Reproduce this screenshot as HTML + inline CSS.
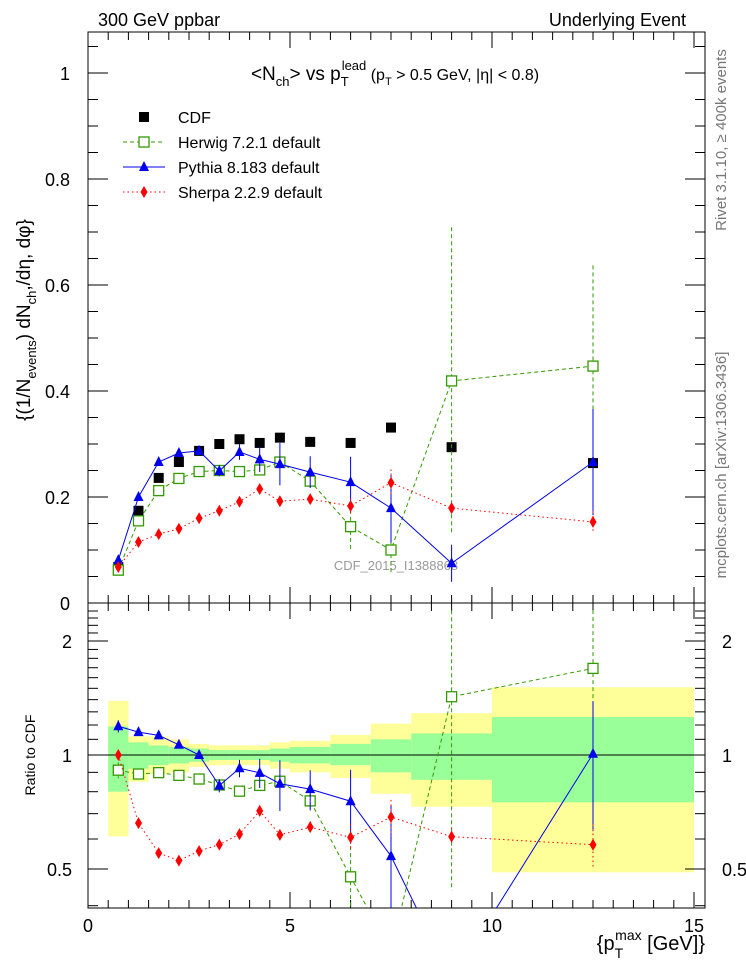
<!DOCTYPE html>
<html><head><meta charset="utf-8"><style>
html,body{margin:0;padding:0;background:#fff;width:746px;height:972px;overflow:hidden;}
svg{display:block;font-family:"Liberation Sans",sans-serif;}
</style></head><body>
<svg id="c" width="746" height="972" viewBox="0 0 746 972"></svg>
<script>
const xs=[0.75,1.25,1.75,2.25,2.75,3.25,3.75,4.25,4.75,5.5,6.5,7.5,9,12.5];
const cdfY=[0.068,0.174,0.236,0.266,0.287,0.300,0.309,0.302,0.312,0.304,0.302,0.331,0.294,0.264];
const herwigY=[0.062,0.155,0.212,0.235,0.248,0.250,0.248,0.251,0.266,0.230,0.144,0.100,0.419,0.447];
const herwigE=[0.003,0.004,0.004,0.004,0.004,0.005,0.006,0.007,0.008,0.01,0.045,0.045,0.29,0.19];
const pythiaY=[0.081,0.200,0.266,0.283,0.287,0.249,0.285,0.271,0.262,0.247,0.228,0.179,0.075,0.266];
const pythiaE=[0.003,0.003,0.004,0.004,0.006,0.01,0.015,0.024,0.04,0.03,0.048,0.065,0.035,0.1];
const sherpaY=[0.068,0.115,0.130,0.140,0.160,0.174,0.191,0.215,0.192,0.196,0.183,0.227,0.179,0.153];
const sherpaE=[0.002,0.002,0.002,0.003,0.003,0.003,0.004,0.007,0.006,0.007,0.015,0.025,0.01,0.02];
const binEdges=[0.5,1,1.5,2,2.5,3,3.5,4,4.5,5,6,7,8,10,15];
const yelUp=[1.39,1.12,1.12,1.10,1.07,1.06,1.06,1.06,1.08,1.09,1.13,1.21,1.29,1.51];
const yelDn=[0.61,0.85,0.89,0.90,0.93,0.94,0.94,0.94,0.92,0.90,0.87,0.79,0.73,0.49];
const grnUp=[1.19,1.08,1.06,1.05,1.04,1.03,1.03,1.03,1.04,1.05,1.07,1.10,1.14,1.26];
const grnDn=[0.80,0.92,0.94,0.95,0.96,0.97,0.97,0.97,0.96,0.95,0.94,0.90,0.86,0.75];
const xTicks=[0,5,10,15];
const yTicks=[0,0.2,0.4,0.6,0.8,1];
const rTicks=[0.5,1,2];

const NS='http://www.w3.org/2000/svg';
const svg=document.getElementById('c');
const L=88,R=705,T=32,MB=603,RB=908;
const X=v=>L+v*40.4;
const Y=v=>MB-v*530;
const RY=v=>755-114*Math.log2(v);
function el(tag,attrs,parent){const e=document.createElementNS(NS,tag);for(const k in attrs)e.setAttribute(k,attrs[k]);(parent||svg).appendChild(e);return e;}
function txt(s,x,y,o,parent){const t=el('text',Object.assign({x:x,y:y,'font-size':18,fill:'#000'},o||{}),parent);t.textContent=s;return t;}

const defs=el('defs',{});
const c1=el('clipPath',{id:'cm'},defs);el('rect',{x:L,y:T,width:R-L,height:MB-T},c1);
const c2=el('clipPath',{id:'cr'},defs);el('rect',{x:L,y:MB,width:R-L,height:RB-MB},c2);

let t=txt('300 GeV ppbar',98,26,{});
t=txt('Underlying Event',686,26,{'text-anchor':'end'});
t=txt('Rivet 3.1.10, \u2265 400k events',0,0,{'font-size':15,fill:'#777',transform:'translate(726,140) rotate(-90)','text-anchor':'middle'});

t=txt('mcplots.cern.ch [arXiv:1306.3436]',0,0,{'font-size':15,fill:'#777',transform:'translate(726,465) rotate(-90)','text-anchor':'middle'});


const gb=el('g',{'clip-path':'url(#cr)'});
for(let i=0;i<binEdges.length-1;i++){
  const x0=X(binEdges[i]),x1=X(binEdges[i+1]);
  let r=el('rect',{x:x0,y:RY(yelUp[i]),width:x1-x0,height:RY(yelDn[i])-RY(yelUp[i]),fill:'#ffff99'},gb);
  
  r=el('rect',{x:x0,y:RY(grnUp[i]),width:x1-x0,height:RY(grnDn[i])-RY(grnUp[i]),fill:'#99ff99'},gb);
  
}
el('line',{x1:L,x2:R,y1:RY(1),y2:RY(1),stroke:'#000','stroke-width':1},gb);

let f=el('rect',{x:L,y:T,width:R-L,height:MB-T,fill:'none',stroke:'#000','stroke-width':1});

f=el('rect',{x:L,y:MB,width:R-L,height:RB-MB,fill:'none',stroke:'#000','stroke-width':1});


const gt=el('g',{stroke:'#000','stroke-width':1});
for(let v=0;v<=15.01;v+=0.5){
  const maj=Math.abs(v%5)<0.01, len=maj?16:8, x=X(v);
  [[MB,-1],[T,1],[RB,-1],[MB,1]].forEach(([y,d])=>el('line',{x1:x,x2:x,y1:y,y2:y+d*len},gt));
}
for(let v=0;v<=1.07;v+=0.05){
  const maj=Math.abs((v/0.2)-Math.round(v/0.2))<0.01,len=maj?20:10,y=Y(v);
  el('line',{x1:L,x2:L+len,y1:y,y2:y},gt);el('line',{x1:R,x2:R-len,y1:y,y2:y},gt);
}
for(let v=0.4;v<=2.5;v+=0.1){
  const maj=[0.5,1,2].some(m=>Math.abs(m-v)<0.01),y=RY(v),len=maj?20:10;
  if(y<MB||y>RB)continue;
  el('line',{x1:L,x2:L+len,y1:y,y2:y},gt);el('line',{x1:R,x2:R-len,y1:y,y2:y},gt);
}
yTicks.forEach(v=>{const t=txt(v===0||v===1?String(v):v.toFixed(1),70,Y(v)+7,{'text-anchor':'end'});
  });
rTicks.forEach(v=>{let t=txt(String(v),72,RY(v)+7,{'text-anchor':'end'});
  
  t=txt(String(v),722,RY(v)+7,{'text-anchor':'start'});
  });
xTicks.forEach(v=>{const t=txt(String(v),X(v),932,{'text-anchor':'middle'});
  });

t=el('text',{x:705,y:950,'font-size':20,'text-anchor':'end'});t.innerHTML='{p<tspan font-size="14" dy="8">T</tspan><tspan font-size="14" dx="-8" dy="-18">max</tspan><tspan dy="10"> [GeV]}</tspan>';

t=el('text',{x:0,y:0,'font-size':19,'text-anchor':'middle',transform:'translate(30,320) rotate(-90)'});
t.innerHTML='{(1/N<tspan font-size="13" dy="6">events</tspan><tspan dy="-6">) dN</tspan><tspan font-size="13" dy="6">ch</tspan><tspan dy="-6">,/d\u03b7, d\u03c6}</tspan>';

t=txt('Ratio to CDF',0,0,{'font-size':14,'text-anchor':'middle',transform:'translate(35,755) rotate(-90)'});

t=el('text',{x:395,y:80,'font-size':19,'text-anchor':'middle'});
t.innerHTML='&lt;N<tspan font-size="13" dy="6">ch</tspan><tspan dy="-6">&gt; vs p</tspan><tspan font-size="13" dy="6">T</tspan><tspan font-size="13" dx="-7" dy="-16">lead</tspan><tspan font-size="16" dy="10"> (p</tspan><tspan font-size="11" dy="5">T</tspan><tspan font-size="16" dy="-5"> &gt; 0.5 GeV, |\u03b7| &lt; 0.8)</tspan>';

t=txt('CDF_2015_I1388868',396,570,{'font-size':13,fill:'#999','text-anchor':'middle'});


function marker(type,x,y,color,parent){
  if(type==='sq')return el('rect',{x:x-5,y:y-5,width:10,height:10,fill:color},parent);
  if(type==='osq')return el('rect',{x:x-5,y:y-5,width:10,height:10,fill:'#fff',stroke:color,'stroke-width':1.3},parent);
  if(type==='tri')return el('path',{d:`M${x},${y-6}L${x+5},${y+4}L${x-5},${y+4}Z`,fill:color},parent);
  return el('path',{d:`M${x},${y-6}L${x+3.5},${y}L${x},${y+6}L${x-3.5},${y}Z`,fill:color},parent);
}
const series=[
  {name:'herwig',y:herwigY,e:herwigE,c:'#339900',m:'osq',dash:'4,3'},
  {name:'pythia',y:pythiaY,e:pythiaE,c:'#0000ee',m:'tri',dash:''},
  {name:'sherpa',y:sherpaY,e:sherpaE,c:'#ff0000',m:'dia',dash:'1.5,3'}
];
function drawPanel(clip,yf,ratio){
  const g=el('g',{'clip-path':`url(#${clip})`});
  
  if(!ratio){xs.forEach((x,i)=>{const m=marker('sq',X(x),yf(cdfY[i]),'#000',g);
    });}
  series.forEach(s=>{
    const vals=s.y.map((v,i)=>ratio?v/cdfY[i]:v), errs=s.e.map((v,i)=>ratio?v/cdfY[i]:v);
    const p=el('polyline',{points:xs.map((x,i)=>X(x)+','+yf(vals[i])).join(' '),fill:'none',stroke:s.c,'stroke-width':1,'stroke-dasharray':s.dash},g);
    
    xs.forEach((x,i)=>{
      const lo=Math.max(vals[i]-errs[i],0.01);
      const l=el('line',{x1:X(x),x2:X(x),y1:yf(vals[i]+errs[i]),y2:yf(lo),stroke:s.c,'stroke-width':1,'stroke-dasharray':s.dash},g);
      
      const m=marker(s.m,X(x),yf(vals[i]),s.c,g);
      
    });
  });
}
drawPanel('cm',Y,false);
drawPanel('cr',RY,true);

const lg=el('g',{});
const leg=[['CDF','sq','#000',''],['Herwig 7.2.1 default','osq','#339900','4,3'],['Pythia 8.183 default','tri','#0000ee',''],['Sherpa 2.2.9 default','dia','#ff0000','1.5,3']];
leg.forEach((e,i)=>{
  const y=117+i*25;
  const g=el('g',{},lg);
  if(i>0)el('line',{x1:123,x2:165,y1:y,y2:y,stroke:e[2],'stroke-dasharray':e[3]},g);
  marker(e[1],144,y,e[2],g);
  txt(e[0],178,y+6,{'font-size':16},g);
});
</script>
</body></html>
